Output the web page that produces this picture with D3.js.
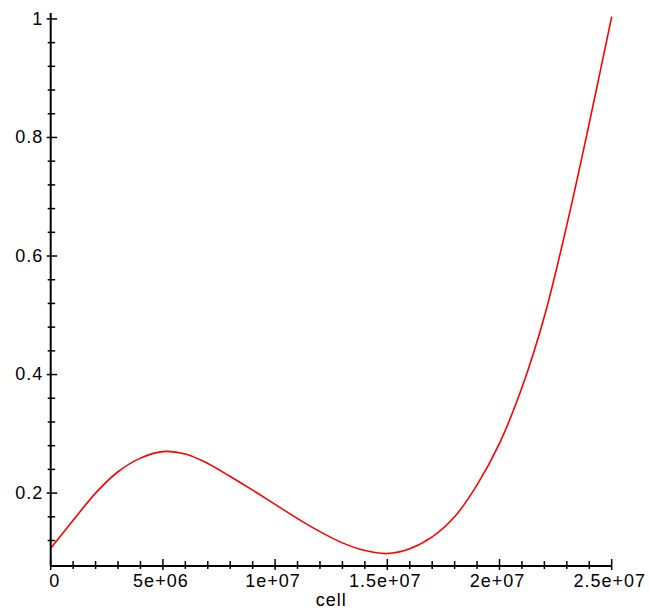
<!DOCTYPE html>
<html>
<head>
<meta charset="utf-8">
<script src="https://cdn.jsdelivr.net/npm/d3@7"></script>
<style>
    body { margin: 0; background: #fff; }
    text { font-family: "Liberation Sans", Arial, sans-serif; font-size: 18px; letter-spacing: 1px; fill: #000; }
</style>
</head>
<body>
<svg id="drawing_region"></svg>
<script>
// values (x = cell, y = f(cell))
const cellValues = [0, 1e6, 2e6, 3e6, 4e6, 5e6, 6e6, 7e6, 8e6, 9e6, 1e7, 1.1e7, 1.2e7,
    1.3e7, 1.4e7, 1.5e7, 1.6e7, 1.7e7, 1.8e7, 1.9e7, 2e7, 2.1e7, 2.2e7, 2.3e7, 2.4e7, 2.5e7];
const fValues = [0.107, 0.154, 0.200, 0.236, 0.259, 0.270, 0.266, 0.250, 0.228, 0.205, 0.181, 0.157, 0.135,
    0.116, 0.103, 0.098, 0.106, 0.126, 0.160, 0.214, 0.284, 0.378, 0.498, 0.652, 0.824, 1.004];

const xMajorTicks = [0, 5e6, 1e7, 1.5e7, 2e7, 2.5e7];
const xTickLabels = ["0", "5e+06", "1e+07", "1.5e+07", "2e+07", "2.5e+07"];
const yMajorTicks = [0.2, 0.4, 0.6, 0.8, 1];
const yTickLabels = ["0.2", "0.4", "0.6", "0.8", "1"];
const xLabel = "cell";

const data = cellValues.map((c, i) => ({ x: c, y: fValues[i] }));

class CurvePlot {

    constructor(config, data) {
        this.config = config;
        this.data = data;
        this.init();
    }

    init() {
        let self = this;

        self.svg = d3.select(self.config.parent)
            .attr('width', self.config.width)
            .attr('height', self.config.height);

        self.xscale = d3.scaleLinear()
            .domain([0, 2.5e7])
            .range([50.7, 611.7]);

        self.yscale = d3.scaleLinear()
            .domain([0.077, 1.01])
            .range([566, 13]);
    }

    render() {
        let self = this;

        const line = d3.line()
            .x(d => self.xscale(d.x))
            .y(d => self.yscale(d.y))
            .curve(d3.curveCatmullRom);

        self.svg.append('path')
            .datum(self.data)
            .attr('d', line)
            .attr('fill', 'none')
            .attr('stroke', '#ff0000')
            .attr('stroke-width', 1.6);

        // minor ticks
        const xMinor = d3.range(1e6, 2.5e7, 1e6).filter(v => v % 5e6 != 0);
        const yMinor = d3.range(0.12, 1, 0.04).filter(v => Math.abs(v * 5 - Math.round(v * 5)) > 1e-6);

        // x axis
        const xg = self.svg.append('g')
            .attr('transform', `translate(0, 566)`);
        xg.append('line')
            .attr('x1', self.xscale(0)).attr('x2', self.xscale(2.5e7))
            .attr('stroke', '#000').attr('stroke-width', 2);
        xg.selectAll('.minor').data(xMinor).enter().append('line')
            .attr('x1', d => self.xscale(d)).attr('x2', d => self.xscale(d))
            .attr('y1', -5).attr('y2', 3)
            .attr('stroke', '#000').attr('stroke-width', 1.5);
        xg.selectAll('.major').data(xMajorTicks).enter().append('line')
            .attr('x1', d => self.xscale(d)).attr('x2', d => self.xscale(d))
            .attr('y1', -7).attr('y2', 4)
            .attr('stroke', '#000').attr('stroke-width', 1.5);
        xg.selectAll('text').data(xMajorTicks).enter().append('text')
            .attr('x', (d, i) => i == 0 ? self.xscale(d) - 1.5 : self.xscale(d) - 2)
            .attr('y', 20.7)
            .attr('text-anchor', (d, i) => i == 0 ? 'start' : 'middle')
            .text((d, i) => xTickLabels[i]);

        // y axis
        const yg = self.svg.append('g')
            .attr('transform', `translate(${self.xscale(0)}, 0)`);
        yg.append('line')
            .attr('y1', self.yscale(0.077)).attr('y2', self.yscale(1.01))
            .attr('stroke', '#000').attr('stroke-width', 2);
        yg.selectAll('.minor').data(yMinor).enter().append('line')
            .attr('y1', d => self.yscale(d)).attr('y2', d => self.yscale(d))
            .attr('x1', -3).attr('x2', 4.5)
            .attr('stroke', '#000').attr('stroke-width', 1.5);
        yg.selectAll('.major').data(yMajorTicks).enter().append('line')
            .attr('y1', d => self.yscale(d)).attr('y2', d => self.yscale(d))
            .attr('x1', -4).attr('x2', 6.5)
            .attr('stroke', '#000').attr('stroke-width', 1.5);
        yg.selectAll('text').data(yMajorTicks).enter().append('text')
            .attr('x', -7.5)
            .attr('y', d => self.yscale(d))
            .attr('dy', '0.32em')
            .attr('text-anchor', 'end')
            .text((d, i) => yTickLabels[i]);

        // axis title
        self.svg.append('text')
            .attr('x', (self.xscale(0) + self.xscale(2.5e7)) / 2)
            .attr('y', 606)
            .attr('text-anchor', 'middle')
            .text(xLabel);
    }
}

const plot = new CurvePlot({ parent: '#drawing_region', width: 649, height: 612 }, data);
plot.render();
</script>
</body>
</html>
